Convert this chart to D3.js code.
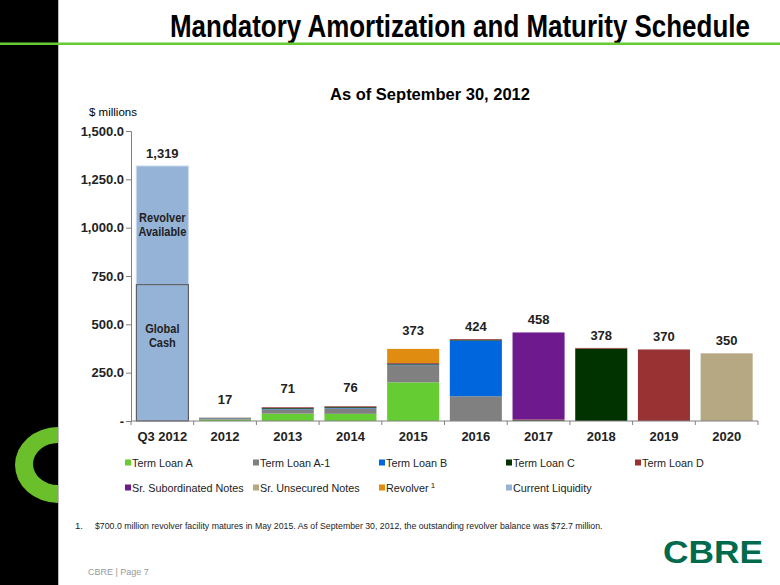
<!DOCTYPE html>
<html><head><meta charset="utf-8">
<script src="https://cdn.jsdelivr.net/npm/d3@7"></script>
<style>body{margin:0;background:#fff}svg{display:block}</style>
</head><body><svg id="c" width="780" height="585"></svg>
<script>
const categories = ["Q3 2012","2012","2013","2014","2015","2016","2017","2018","2019","2020"];
const totals = [1319,17,71,76,373,424,458,378,370,350];
const liquidityCash =      [705,0,0,0,0,0,0,0,0,0];
const liquidityRevolver =  [614,0,0,0,0,0,0,0,0,0];
const termLoanA =          [0,7,38,37,200,0,0,0,0,0];
const termLoanA1 =         [0,7,22,28,89,128,0,0,0,0];
const termLoanB =          [0,1,3,3,3,288,0,0,0,0];
const termLoanC =          [0,1,4,4,4,4,4,374,0,0];
const termLoanD =          [0,1,4,4,4,4,4,4,370,0];
const srSubNotes =         [0,0,0,0,0,0,450,0,0,0];
const srUnsecNotes =       [0,0,0,0,0,0,0,0,0,350];
const revolver =           [0,0,0,0,73,0,0,0,0,0];
const yTicks = [0,250,500,750,1000,1250,1500];
const legendLabels = ["Term Loan A","Term Loan A-1","Term Loan B","Term Loan C","Term Loan D","Sr. Subordinated Notes","Sr. Unsecured Notes","Revolver","Current Liquidity"];

const series = [
  {name:"Current Liquidity", vals:liquidityCash, color:"#95B3D7"},
  {name:"Current Liquidity", vals:liquidityRevolver, color:"#95B3D7", stroke:"#c9d8ec"},
  {name:"Term Loan A", vals:termLoanA, color:"#66CC33"},
  {name:"Term Loan A-1", vals:termLoanA1, color:"#808080"},
  {name:"Term Loan B", vals:termLoanB, color:"#0066DD"},
  {name:"Term Loan C", vals:termLoanC, color:"#003300"},
  {name:"Term Loan D", vals:termLoanD, color:"#993333"},
  {name:"Sr. Subordinated Notes", vals:srSubNotes, color:"#6E1A8E"},
  {name:"Sr. Unsecured Notes", vals:srUnsecNotes, color:"#B5A882"},
  {name:"Revolver", vals:revolver, color:"#E08C10"}
];
const colorOf = {"Term Loan A":"#66CC33","Term Loan A-1":"#808080","Term Loan B":"#0066DD","Term Loan C":"#003300","Term Loan D":"#993333","Sr. Subordinated Notes":"#6E1A8E","Sr. Unsecured Notes":"#B5A882","Revolver":"#E08C10","Current Liquidity":"#95B3D7"};

const svg = d3.select("#c");
const font = "Arial, 'Liberation Sans', sans-serif";

function fitText(sel, targetW) {
  const w = sel.node().getComputedTextLength();
  return w ? targetW / w : 1;
}

// left black panel and green C
svg.append("rect").attr("x",0).attr("y",0).attr("width",58).attr("height",585).attr("fill","#000");
const clip = svg.append("clipPath").attr("id","cl");
clip.append("rect").attr("x",0).attr("y",0).attr("width",58).attr("height",585);
svg.append("path").attr("clip-path","url(#cl)").attr("fill","#6ABF2A").attr("fill-rule","evenodd")
  .attr("d","M58,427 A43,38 0 1 0 58,503 A43,38 0 1 0 58,427 Z M58,443 A25,21 0 1 1 58,485 A25,21 0 1 1 58,443 Z");
svg.append("line").attr("x1",58.5).attr("x2",58.5).attr("y1",0).attr("y2",585).attr("stroke","#bbb").attr("stroke-width",1);

// title (horizontally condensed to mimic Arial Narrow)
const tg = svg.append("g");
const title = tg.append("text").attr("x",0).attr("y",0)
  .attr("font-family",font).attr("font-weight","bold").attr("font-size",31)
  .text("Mandatory Amortization and Maturity Schedule");
const ts = fitText(title, 580);
tg.attr("transform",`translate(170,37) scale(${ts},1)`);
svg.append("rect").attr("x",0).attr("y",42.5).attr("width",780).attr("height",2.5).attr("fill","#66CC33");

svg.append("text").attr("x",430).attr("y",100).attr("text-anchor","middle").attr("font-family",font)
  .attr("font-weight","bold").attr("font-size",16.5).text("As of September 30, 2012");
svg.append("text").attr("x",89).attr("y",116).attr("font-family",font).attr("font-size",11.5).text("$ millions");

const x = d3.scaleBand().domain(categories).range([131,758]).paddingInner(0.17).paddingOuter(0.085);
const y = d3.scaleLinear().domain([0,1500]).range([421,131]);

// bars
const g = svg.append("g");
series.forEach(s => {
  s.vals.forEach((v,i) => {
    if (!v) return;
    let base = 0;
    for (const t of series) { if (t === s) break; base += t.vals[i]; }
    g.append("rect").attr("x",x(categories[i])).attr("width",x.bandwidth())
      .attr("y",y(base+v)).attr("height",y(base)-y(base+v))
      .attr("fill",s.color).attr("stroke",s.stroke||"none").attr("stroke-width",s.stroke?1:0);
  });
});
// global cash outline on top
g.append("rect").attr("x",x(categories[0])).attr("width",x.bandwidth()).attr("y",y(liquidityCash[0]))
  .attr("height",y(0)-y(liquidityCash[0])).attr("fill","none").attr("stroke","#4a4a4a").attr("stroke-width",1);

// inner labels
const cx = x(categories[0]) + x.bandwidth()/2;
const inner = [["Revolver","Available", y(liquidityCash[0]+liquidityRevolver[0]/2)],["Global","Cash", y(liquidityCash[0]*0.62)]];
inner.forEach(([a,b,py]) => {
  [[a,py-3],[b,py+11]].forEach(([txt,ty]) => {
    svg.append("text").attr("text-anchor","middle")
      .attr("transform",`translate(${cx},${ty}) scale(0.88,1)`)
      .attr("font-family",font).attr("font-weight","bold").attr("font-size",12.5).attr("fill","#222").text(txt);
  });
});

// totals
const fmtT = d3.format(",");
totals.forEach((v,i) => {
  svg.append("text").attr("x",x(categories[i])+x.bandwidth()/2).attr("y",y(v)-8 - (i>=1&&i<=4?6:0))
    .attr("text-anchor","middle").attr("font-family",font).attr("font-weight","bold").attr("font-size",13)
    .attr("fill","#222").text(fmtT(v));
});

// y axis
const yAxis = d3.axisLeft(y).tickValues(yTicks).tickSize(5).tickFormat(d => d===0 ? "-" : d3.format(",.1f")(d));
const ya = svg.append("g").attr("transform","translate(131,0)").call(yAxis);
ya.select(".domain").attr("stroke","#808080");
ya.selectAll(".tick line").attr("stroke","#808080");
ya.selectAll(".tick text").attr("font-family",font).attr("font-weight","bold").attr("font-size",13).attr("fill","#222").attr("x",-7);

// x axis
const xa = svg.append("g").attr("transform","translate(0,421)");
xa.append("line").attr("x1",131).attr("x2",758).attr("stroke","#808080");
d3.range(0,11).forEach(k => {
  const px = 131 + k*((758-131)/10);
  xa.append("line").attr("x1",px).attr("x2",px).attr("y1",0).attr("y2",4).attr("stroke","#808080");
});
categories.forEach(c => {
  xa.append("text").attr("x",x(c)+x.bandwidth()/2).attr("y",20).attr("text-anchor","middle")
    .attr("font-family",font).attr("font-weight","bold").attr("font-size",13).attr("fill","#222").text(c);
});

// legend
const colX = [128,256,382,509,638];
legendLabels.forEach((l,i) => {
  const row = i<5?0:1, col = i<5?i:i-5;
  const lx = colX[col], ly = row===0?462.5:487.5;
  svg.append("rect").attr("x",lx-3).attr("y",ly-3).attr("width",6).attr("height",6).attr("fill",colorOf[l]);
  const t = svg.append("text").attr("x",lx+4).attr("y",ly+4).attr("font-family",font).attr("font-size",10.8).attr("fill","#222").text(l);
  if (l==="Revolver") t.append("tspan").attr("font-size",8).attr("dy",-4).text(" 1");
});

// footnote
svg.append("text").attr("x",75).attr("y",529).attr("font-family",font).attr("font-size",9.5).attr("fill","#222").text("1.");
const fn = svg.append("g");
const fnt = fn.append("text").attr("x",0).attr("y",0).attr("font-family",font).attr("font-size",9.5).attr("fill","#222")
  .text("$700.0 million revolver facility matures in May 2015.  As of September 30, 2012, the outstanding revolver balance was $72.7 million.");
fn.attr("transform",`translate(95,529) scale(${fitText(fnt,508)},1)`);
svg.append("text").attr("x",88).attr("y",575).attr("font-family",font).attr("font-size",9).attr("fill","#999").text("CBRE  |  Page 7");
const lg = svg.append("g");
const lgt = lg.append("text").attr("x",0).attr("y",0).attr("font-family",font).attr("font-weight","bold")
  .attr("font-size",31).attr("fill","#006A4D").text("CBRE");
lg.attr("transform",`translate(663,563) scale(${fitText(lgt,100)},1)`);
</script></body></html>
